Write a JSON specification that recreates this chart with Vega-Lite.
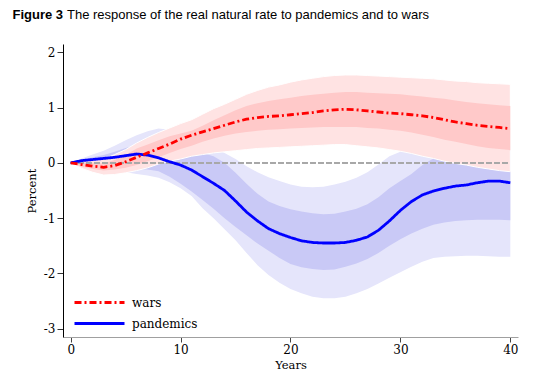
{
  "$schema": "https://vega.github.io/schema/vega-lite/v6.json",
  "width": 455,
  "height": 293,
  "autosize": "none",
  "padding": {"left": 63, "top": 44, "right": 24, "bottom": 43},
  "background": "white",
  "config": {"view": {"stroke": null}, "legend": {"labelFont": "DejaVu Serif", "labelFontSize": 12, "labelColor": "#000000"}},
  "datasets": {
    "irf": [
      {"s":"pandemics","x":0,"c":0,"l1":0,"h1":0,"l2":0,"h2":0},
      {"s":"pandemics","x":1,"c":0.04,"l1":-0.03,"h1":0.06,"l2":-0.03,"h2":0.08},
      {"s":"pandemics","x":2,"c":0.06,"l1":-0.05,"h1":0.10,"l2":-0.06,"h2":0.15},
      {"s":"pandemics","x":3,"c":0.08,"l1":-0.07,"h1":0.14,"l2":-0.10,"h2":0.22},
      {"s":"pandemics","x":4,"c":0.10,"l1":-0.09,"h1":0.20,"l2":-0.13,"h2":0.31},
      {"s":"pandemics","x":5,"c":0.13,"l1":-0.10,"h1":0.27,"l2":-0.17,"h2":0.41},
      {"s":"pandemics","x":6,"c":0.16,"l1":-0.11,"h1":0.32,"l2":-0.20,"h2":0.50},
      {"s":"pandemics","x":7,"c":0.14,"l1":-0.12,"h1":0.34,"l2":-0.23,"h2":0.57},
      {"s":"pandemics","x":8,"c":0.09,"l1":-0.15,"h1":0.30,"l2":-0.27,"h2":0.62},
      {"s":"pandemics","x":9,"c":0.02,"l1":-0.25,"h1":0.22,"l2":-0.35,"h2":0.60},
      {"s":"pandemics","x":10,"c":-0.04,"l1":-0.38,"h1":0.20,"l2":-0.46,"h2":0.50},
      {"s":"pandemics","x":11,"c":-0.13,"l1":-0.52,"h1":0.20,"l2":-0.60,"h2":0.42},
      {"s":"pandemics","x":12,"c":-0.25,"l1":-0.67,"h1":0.18,"l2":-0.82,"h2":0.35},
      {"s":"pandemics","x":13,"c":-0.37,"l1":-0.83,"h1":0.12,"l2":-1.00,"h2":0.27},
      {"s":"pandemics","x":14,"c":-0.50,"l1":-1.00,"h1":0.00,"l2":-1.20,"h2":0.18},
      {"s":"pandemics","x":15,"c":-0.69,"l1":-1.16,"h1":-0.18,"l2":-1.40,"h2":0.07},
      {"s":"pandemics","x":16,"c":-0.89,"l1":-1.31,"h1":-0.38,"l2":-1.63,"h2":-0.06},
      {"s":"pandemics","x":17,"c":-1.05,"l1":-1.46,"h1":-0.56,"l2":-1.85,"h2":-0.17},
      {"s":"pandemics","x":18,"c":-1.19,"l1":-1.59,"h1":-0.70,"l2":-2.03,"h2":-0.26},
      {"s":"pandemics","x":19,"c":-1.28,"l1":-1.72,"h1":-0.78,"l2":-2.17,"h2":-0.33},
      {"s":"pandemics","x":20,"c":-1.35,"l1":-1.83,"h1":-0.84,"l2":-2.28,"h2":-0.39},
      {"s":"pandemics","x":21,"c":-1.41,"l1":-1.89,"h1":-0.88,"l2":-2.36,"h2":-0.43},
      {"s":"pandemics","x":22,"c":-1.44,"l1":-1.92,"h1":-0.91,"l2":-2.42,"h2":-0.44},
      {"s":"pandemics","x":23,"c":-1.45,"l1":-1.94,"h1":-0.93,"l2":-2.45,"h2":-0.43},
      {"s":"pandemics","x":24,"c":-1.45,"l1":-1.93,"h1":-0.92,"l2":-2.45,"h2":-0.39},
      {"s":"pandemics","x":25,"c":-1.44,"l1":-1.88,"h1":-0.88,"l2":-2.42,"h2":-0.34},
      {"s":"pandemics","x":26,"c":-1.40,"l1":-1.82,"h1":-0.83,"l2":-2.36,"h2":-0.27},
      {"s":"pandemics","x":27,"c":-1.34,"l1":-1.74,"h1":-0.75,"l2":-2.28,"h2":-0.17},
      {"s":"pandemics","x":28,"c":-1.22,"l1":-1.63,"h1":-0.62,"l2":-2.18,"h2":-0.03},
      {"s":"pandemics","x":29,"c":-1.05,"l1":-1.50,"h1":-0.46,"l2":-2.08,"h2":0.12},
      {"s":"pandemics","x":30,"c":-0.86,"l1":-1.38,"h1":-0.33,"l2":-1.98,"h2":0.20},
      {"s":"pandemics","x":31,"c":-0.70,"l1":-1.28,"h1":-0.20,"l2":-1.88,"h2":0.30},
      {"s":"pandemics","x":32,"c":-0.58,"l1":-1.19,"h1":-0.04,"l2":-1.79,"h2":0.40},
      {"s":"pandemics","x":33,"c":-0.51,"l1":-1.12,"h1":0.08,"l2":-1.72,"h2":0.50},
      {"s":"pandemics","x":34,"c":-0.46,"l1":-1.08,"h1":0.16,"l2":-1.70,"h2":0.58},
      {"s":"pandemics","x":35,"c":-0.42,"l1":-1.05,"h1":0.22,"l2":-1.69,"h2":0.63},
      {"s":"pandemics","x":36,"c":-0.40,"l1":-1.04,"h1":0.26,"l2":-1.68,"h2":0.67},
      {"s":"pandemics","x":37,"c":-0.36,"l1":-1.03,"h1":0.28,"l2":-1.68,"h2":0.70},
      {"s":"pandemics","x":38,"c":-0.33,"l1":-1.03,"h1":0.30,"l2":-1.69,"h2":0.72},
      {"s":"pandemics","x":39,"c":-0.33,"l1":-1.03,"h1":0.30,"l2":-1.70,"h2":0.73},
      {"s":"pandemics","x":40,"c":-0.36,"l1":-1.04,"h1":0.30,"l2":-1.70,"h2":0.73},
      {"s":"wars","x":0,"c":0,"l1":0,"h1":0,"l2":0,"h2":0},
      {"s":"wars","x":1,"c":-0.03,"l1":-0.07,"h1":0.01,"l2":-0.10,"h2":0.03},
      {"s":"wars","x":2,"c":-0.06,"l1":-0.11,"h1":0.00,"l2":-0.17,"h2":0.05},
      {"s":"wars","x":3,"c":-0.08,"l1":-0.14,"h1":-0.01,"l2":-0.22,"h2":0.07},
      {"s":"wars","x":4,"c":-0.05,"l1":-0.12,"h1":0.05,"l2":-0.21,"h2":0.15},
      {"s":"wars","x":5,"c":0.02,"l1":-0.09,"h1":0.14,"l2":-0.18,"h2":0.24},
      {"s":"wars","x":6,"c":0.10,"l1":-0.04,"h1":0.26,"l2":-0.14,"h2":0.36},
      {"s":"wars","x":7,"c":0.18,"l1":0.03,"h1":0.33,"l2":-0.09,"h2":0.46},
      {"s":"wars","x":8,"c":0.26,"l1":0.10,"h1":0.41,"l2":-0.02,"h2":0.55},
      {"s":"wars","x":9,"c":0.34,"l1":0.18,"h1":0.48,"l2":0.03,"h2":0.63},
      {"s":"wars","x":10,"c":0.43,"l1":0.25,"h1":0.53,"l2":0.07,"h2":0.71},
      {"s":"wars","x":11,"c":0.50,"l1":0.31,"h1":0.58,"l2":0.12,"h2":0.78},
      {"s":"wars","x":12,"c":0.56,"l1":0.38,"h1":0.67,"l2":0.15,"h2":0.88},
      {"s":"wars","x":13,"c":0.62,"l1":0.44,"h1":0.77,"l2":0.18,"h2":0.98},
      {"s":"wars","x":14,"c":0.68,"l1":0.49,"h1":0.86,"l2":0.20,"h2":1.06},
      {"s":"wars","x":15,"c":0.74,"l1":0.53,"h1":0.95,"l2":0.22,"h2":1.15},
      {"s":"wars","x":16,"c":0.79,"l1":0.56,"h1":1.03,"l2":0.24,"h2":1.24},
      {"s":"wars","x":17,"c":0.82,"l1":0.58,"h1":1.08,"l2":0.26,"h2":1.31},
      {"s":"wars","x":18,"c":0.84,"l1":0.60,"h1":1.12,"l2":0.27,"h2":1.37},
      {"s":"wars","x":19,"c":0.85,"l1":0.61,"h1":1.15,"l2":0.28,"h2":1.41},
      {"s":"wars","x":20,"c":0.87,"l1":0.62,"h1":1.18,"l2":0.29,"h2":1.46},
      {"s":"wars","x":21,"c":0.89,"l1":0.63,"h1":1.21,"l2":0.30,"h2":1.50},
      {"s":"wars","x":22,"c":0.91,"l1":0.64,"h1":1.23,"l2":0.31,"h2":1.53},
      {"s":"wars","x":23,"c":0.94,"l1":0.65,"h1":1.25,"l2":0.32,"h2":1.56},
      {"s":"wars","x":24,"c":0.96,"l1":0.65,"h1":1.27,"l2":0.33,"h2":1.58},
      {"s":"wars","x":25,"c":0.97,"l1":0.65,"h1":1.28,"l2":0.33,"h2":1.59},
      {"s":"wars","x":26,"c":0.96,"l1":0.65,"h1":1.28,"l2":0.31,"h2":1.59},
      {"s":"wars","x":27,"c":0.94,"l1":0.63,"h1":1.27,"l2":0.29,"h2":1.58},
      {"s":"wars","x":28,"c":0.92,"l1":0.62,"h1":1.26,"l2":0.27,"h2":1.57},
      {"s":"wars","x":29,"c":0.90,"l1":0.60,"h1":1.25,"l2":0.24,"h2":1.56},
      {"s":"wars","x":30,"c":0.89,"l1":0.58,"h1":1.24,"l2":0.21,"h2":1.55},
      {"s":"wars","x":31,"c":0.87,"l1":0.55,"h1":1.22,"l2":0.17,"h2":1.54},
      {"s":"wars","x":32,"c":0.85,"l1":0.51,"h1":1.20,"l2":0.12,"h2":1.53},
      {"s":"wars","x":33,"c":0.82,"l1":0.47,"h1":1.18,"l2":0.08,"h2":1.52},
      {"s":"wars","x":34,"c":0.78,"l1":0.42,"h1":1.16,"l2":0.03,"h2":1.50},
      {"s":"wars","x":35,"c":0.74,"l1":0.38,"h1":1.13,"l2":-0.01,"h2":1.48},
      {"s":"wars","x":36,"c":0.71,"l1":0.34,"h1":1.10,"l2":-0.04,"h2":1.47},
      {"s":"wars","x":37,"c":0.68,"l1":0.30,"h1":1.08,"l2":-0.08,"h2":1.45},
      {"s":"wars","x":38,"c":0.66,"l1":0.27,"h1":1.06,"l2":-0.11,"h2":1.44},
      {"s":"wars","x":39,"c":0.64,"l1":0.25,"h1":1.04,"l2":-0.14,"h2":1.43},
      {"s":"wars","x":40,"c":0.62,"l1":0.23,"h1":1.03,"l2":-0.16,"h2":1.42}
    ]
  },
  "data": {"name": "irf"},
  "resolve": {"scale": {"x": "shared", "y": "shared"}, "axis": {"x": "independent"}},
  "layer": [
    {
      "transform": [{"filter": "datum.s == 'pandemics'"}],
      "mark": {"type": "area", "color": "#e5e5fb", "opacity": 1},
      "encoding": {
        "x": {"field": "x", "type": "quantitative", "scale": {"domain": [-0.7, 40.7], "nice": false, "zero": false}, "axis": null},
        "y": {"field": "l2", "type": "quantitative", "scale": {"domain": [-3.15, 2.15], "nice": false, "zero": false},
          "axis": {"values": [-3, -2, -1, 0, 1, 2], "labelExpr": "toString(datum.value)", "title": "Percent", "grid": false, "domainColor": "#000000", "domainWidth": 1,
            "tickColor": "#333333", "tickSize": 6, "labelPadding": 2, "labelFont": "DejaVu Serif", "labelFontSize": 12, "labelColor": "#000000",
            "titleFont": "DejaVu Serif", "titleFontSize": 11.5, "titleFontWeight": "normal", "titleColor": "#000000",
            "titlePadding": 6}},
        "y2": {"field": "h2"}
      }
    },
    {
      "transform": [{"filter": "datum.s == 'pandemics'"}],
      "mark": {"type": "area", "color": "#c9c9f6", "opacity": 1},
      "encoding": {
        "x": {"field": "x", "type": "quantitative", "axis": null},
        "y": {"field": "l1", "type": "quantitative"},
        "y2": {"field": "h1"}
      }
    },
    {
      "transform": [{"filter": "datum.s == 'wars'"}],
      "mark": {"type": "area", "fill": "#ffe3e3", "opacity": 1, "stroke": "#ffffff", "strokeWidth": 1},
      "encoding": {
        "x": {"field": "x", "type": "quantitative",
          "axis": {"orient": "top", "labels": false, "ticks": false, "domain": false, "grid": false,
            "title": "The response of the real natural rate to pandemics and to wars",
            "titleX": 3.5, "titleY": -26, "titleAlign": "left", "titleBaseline": "alphabetic", "titleAngle": 0,
            "titleFont": "Liberation Sans", "titleFontSize": 13, "titleFontWeight": "normal", "titleColor": "#000000"}},
        "y": {"field": "l2", "type": "quantitative"},
        "y2": {"field": "h2"}
      }
    },
    {
      "transform": [{"filter": "datum.s == 'wars'"}],
      "mark": {"type": "area", "color": "#ffc9c9", "opacity": 1},
      "encoding": {
        "x": {"field": "x", "type": "quantitative", "axis": null},
        "y": {"field": "l1", "type": "quantitative"},
        "y2": {"field": "h1"}
      }
    },
    {
      "mark": {"type": "rule", "color": "#a8a8a8", "strokeWidth": 1, "strokeDash": [5, 3]},
      "encoding": {
        "x": {"datum": 0, "type": "quantitative",
          "axis": {"orient": "top", "labels": false, "ticks": false, "domain": false, "grid": false,
            "title": "Figure 3",
            "titleX": -51, "titleY": -26, "titleAlign": "left", "titleBaseline": "alphabetic", "titleAngle": 0,
            "titleFont": "Liberation Sans", "titleFontSize": 13, "titleFontWeight": "bold", "titleColor": "#000000"}},
        "x2": {"datum": 40},
        "y": {"datum": 0, "type": "quantitative"}
      }
    },
    {
      "mark": {"type": "line", "strokeWidth": 2.8, "strokeCap": "butt", "strokeJoin": "round"},
      "encoding": {
        "x": {"field": "x", "type": "quantitative",
          "axis": {"values": [0, 10, 20, 30, 40], "title": "Years", "grid": false, "domainColor": "#a0a0a0", "domainWidth": 1,
            "tickColor": "#444444", "tickSize": 5, "labelPadding": 2, "labelFont": "DejaVu Serif", "labelFontSize": 12, "labelColor": "#000000",
            "titleFont": "DejaVu Serif", "titleFontSize": 11.5, "titleFontWeight": "normal", "titleColor": "#000000",
            "titleX": 227.5, "titleY": 31, "titleAlign": "center", "titleBaseline": "alphabetic"}},
        "y": {"field": "c", "type": "quantitative"},
        "color": {"field": "s", "type": "nominal",
          "scale": {"domain": ["wars", "pandemics"], "range": ["#ff0000", "#0000ff"]},
          "legend": {"title": null, "orient": "none", "legendX": 25, "legendY": 247, "symbolType": "M-2.5,0H2.5", "symbolSize": 400,
            "symbolStrokeWidth": 2.8, "symbolFillColor": "transparent", "labelFont": "DejaVu Serif", "labelFontSize": 12, "labelColor": "#000000", "labelOffset": 21,
            "rowPadding": 3, "padding": 0}},
        "strokeDash": {"field": "s", "type": "nominal",
          "scale": {"domain": ["wars", "pandemics"], "range": [[7, 3, 2, 3], [1, 0]]},
          "legend": {"title": null, "orient": "none", "legendX": 25, "legendY": 247, "symbolType": "M-2.5,0H2.5", "symbolSize": 400,
            "symbolStrokeWidth": 2.8, "symbolFillColor": "transparent", "labelFont": "DejaVu Serif", "labelFontSize": 12, "labelColor": "#000000", "labelOffset": 21,
            "rowPadding": 3, "padding": 0}},
        "order": {"field": "x"}
      }
    }
  ]
}
